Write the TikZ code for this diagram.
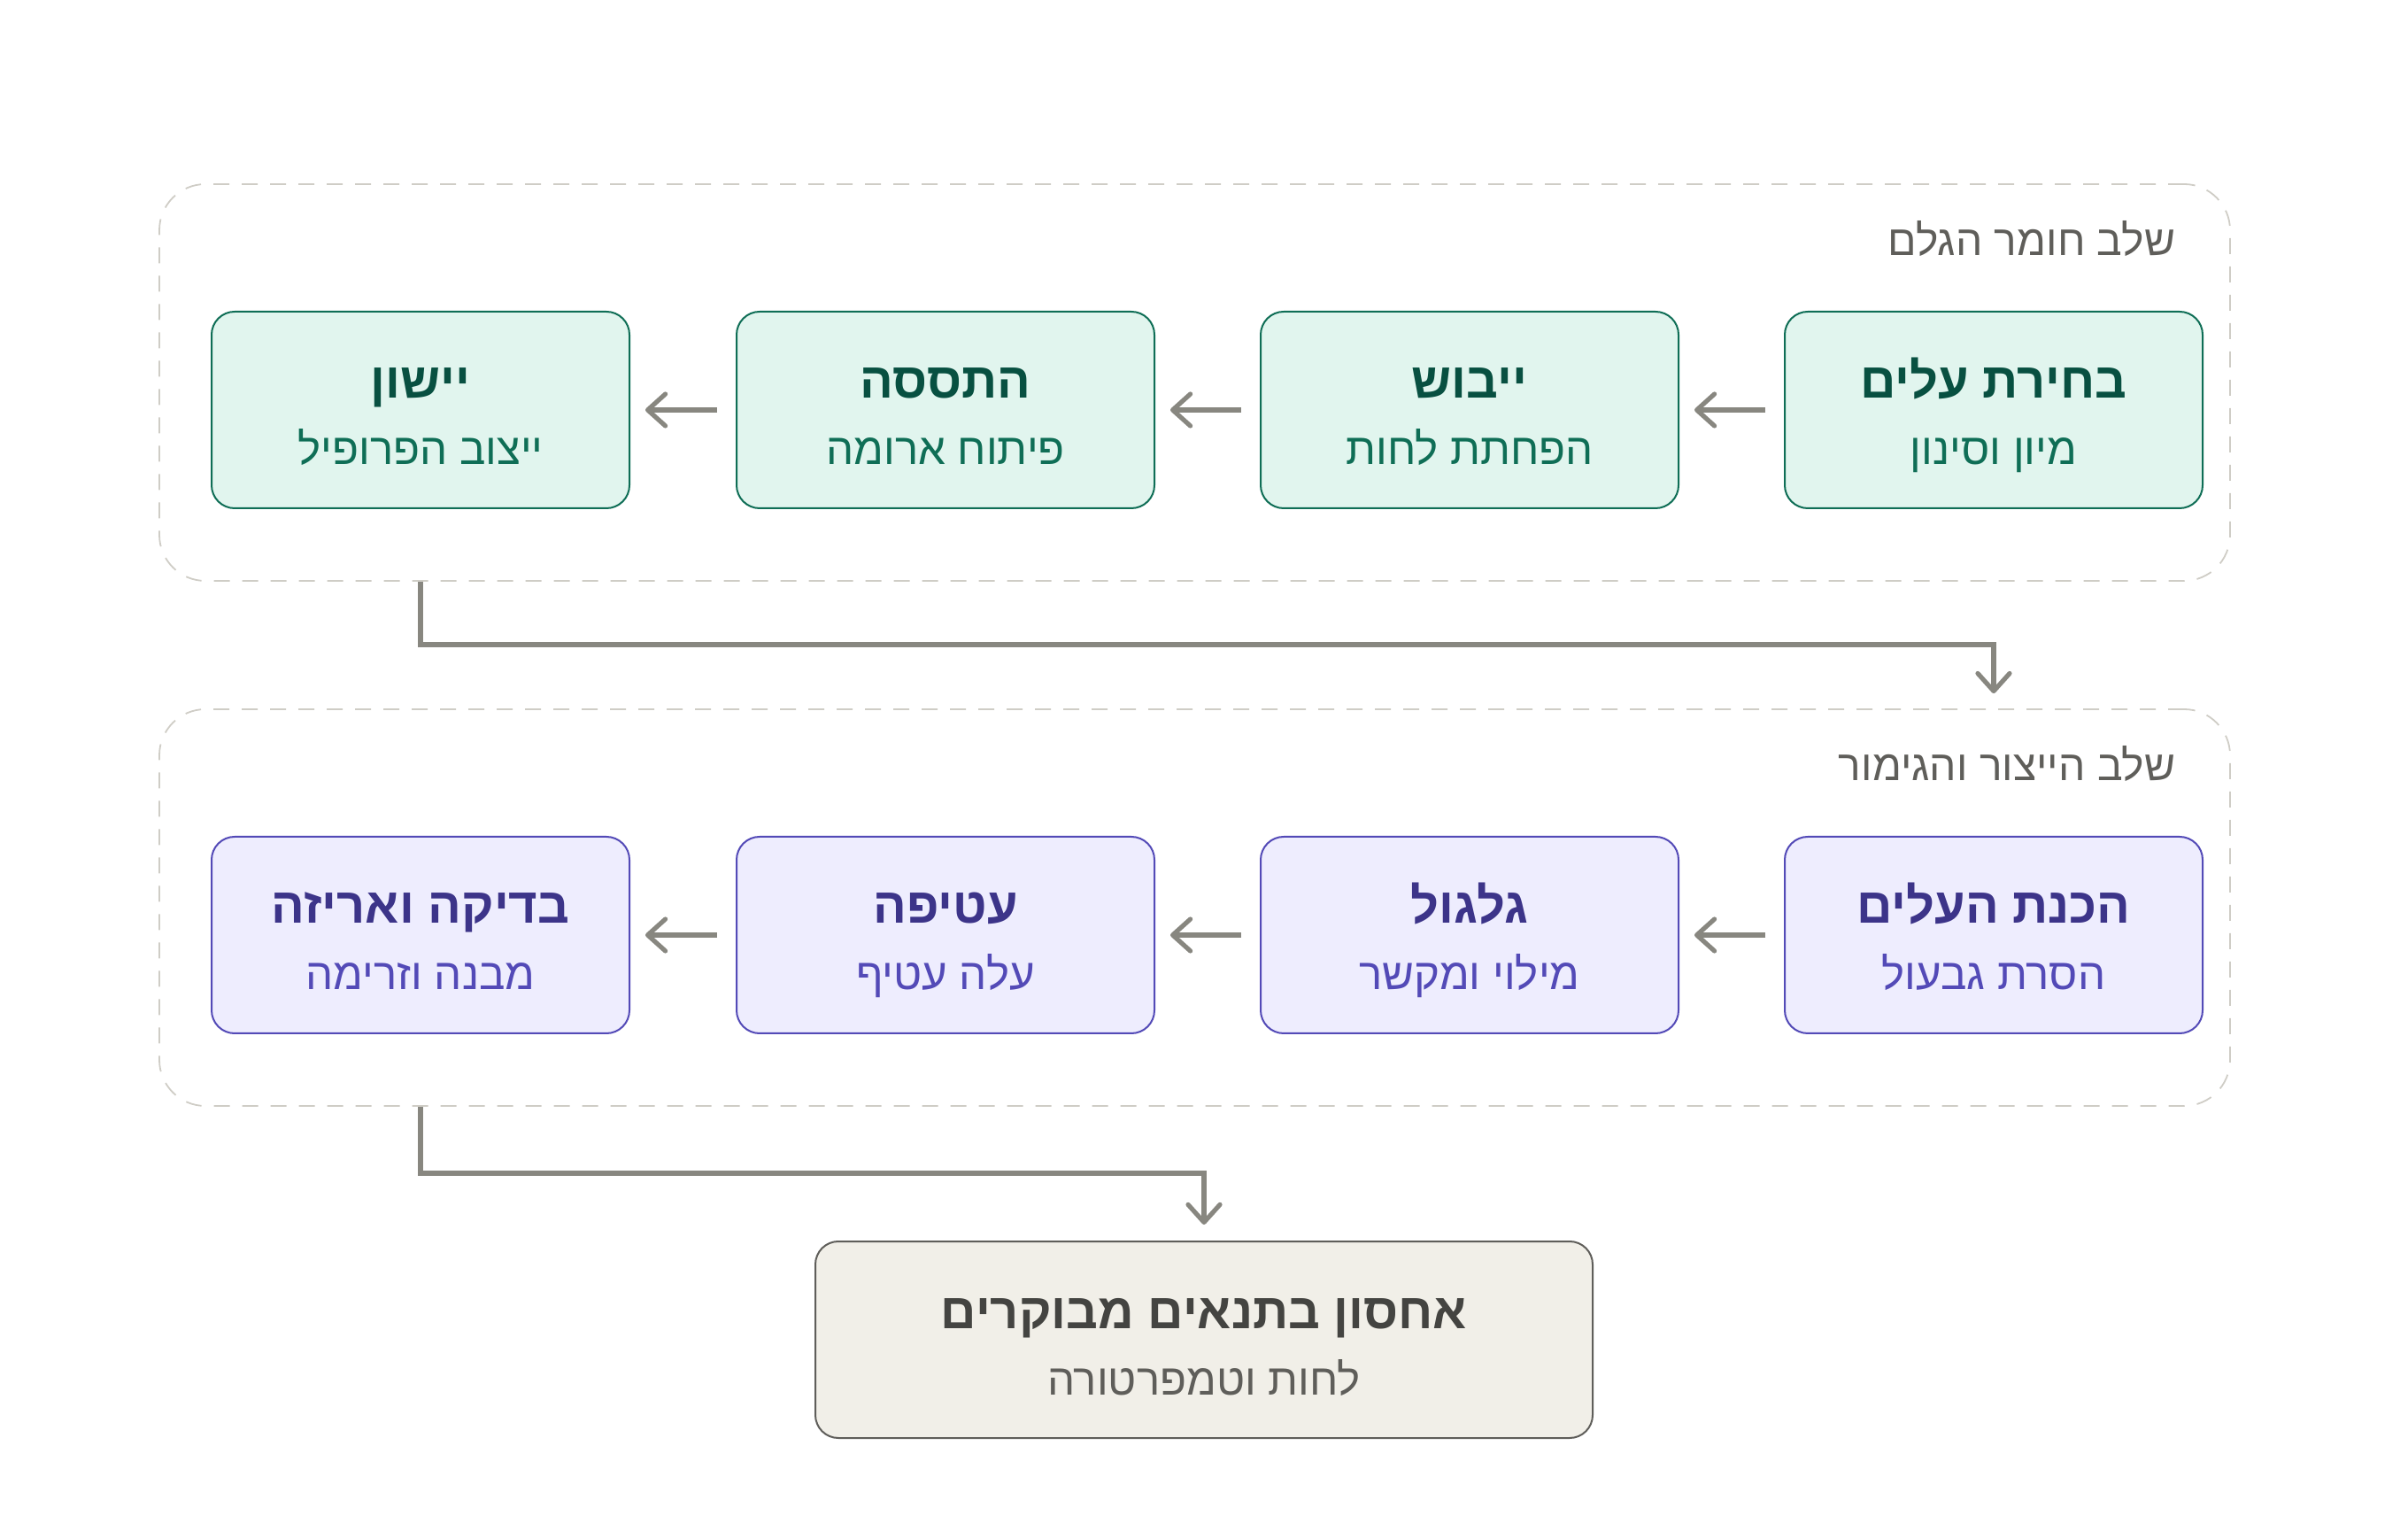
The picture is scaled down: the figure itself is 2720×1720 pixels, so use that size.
\documentclass[tikz,border=0pt]{standalone}
\usepackage{fontspec}
\setmainfont{Liberation Sans}
\newfontfamily\heb[Script=Hebrew]{Liberation Sans}
\TeXXeTstate=1
\usetikzlibrary{arrows.meta}
\definecolor{gfill}{HTML}{E1F5EE}
\definecolor{gline}{HTML}{0F6E56}
\definecolor{gtitle}{HTML}{085041}
\definecolor{gsub}{HTML}{0F6E56}
\definecolor{pfill}{HTML}{EEEDFE}
\definecolor{pline}{HTML}{534AB7}
\definecolor{ptitle}{HTML}{3C3489}
\definecolor{psub}{HTML}{534AB7}
\definecolor{nfill}{HTML}{F1EFE8}
\definecolor{nline}{HTML}{5F5E5A}
\definecolor{ntitle}{HTML}{444441}
\definecolor{nsub}{HTML}{5F5E5A}
\definecolor{clline}{HTML}{CFCDC6}
\definecolor{cltext}{HTML}{5F5E5A}
\definecolor{arr}{HTML}{888780}
\newcommand\stagetext[4]{{\color{#1}\fontsize{14}{18.75}\selectfont\bfseries\rule{0pt}{16.25pt}#3}\\{\color{#2}\fontsize{12.3}{18.75}\selectfont\rule[-4pt]{0pt}{4pt}#4}}
\begin{document}
\begin{tikzpicture}[x=0.25pt,y=-0.25pt,
  stage/.style={rectangle, rounded corners=6.5pt, line width=0.5pt, minimum width=118pt, minimum height=55.5pt, inner sep=0pt, align=center, font=\heb\fontsize{12.3}{18.75}\selectfont},
  gstage/.style={stage, draw=gline, fill=gfill},
  pstage/.style={stage, draw=pline, fill=pfill},
  nstage/.style={stage, draw=nline, fill=nfill, minimum width=219.5pt},
  cluster/.style={rectangle, rounded corners=13pt, draw=clline, line width=0.45pt, dash pattern=on 4.5pt off 3.5pt, minimum width=584.75pt, minimum height=112pt, inner sep=0pt},
  cltitle/.style={anchor=base east, inner sep=0pt, text=cltext, font=\heb\fontsize{12}{14}\selectfont},
  flow/.style={draw=arr, line width=1.3pt, -{Straight Barb[length=5pt,width=9pt,round]}, shorten <=5.25pt, shorten >=4.25pt},
  conn/.style={draw=arr, line width=1.3pt, -{Straight Barb[length=5pt,width=9pt,round]}}
]
\useasboundingbox (0,0) rectangle (2720,1720);
% clusters
\node[cluster] (c1) at (1349.5,432) {};
\node[cluster] (c2) at (1349.5,1025) {};
\node[cltitle] (t1) at (2458,289) {\beginR שלב חומר הגלם\endR};
\node[cltitle] (t2) at (2458,882) {\beginR שלב הייצור והגימור\endR};
% row 1
\node[gstage] (s1) at (2252,463) {\stagetext{gtitle}{gsub}{\beginR בחירת עלים\endR}{\beginR מיון וסינון\endR}};
\node[gstage] (s2) at (1660,463) {\stagetext{gtitle}{gsub}{\beginR ייבוש\endR}{\beginR הפחתת לחות\endR}};
\node[gstage] (s3) at (1068,463) {\stagetext{gtitle}{gsub}{\beginR התססה\endR}{\beginR פיתוח ארומה\endR}};
\node[gstage] (s4) at (475,463) {\stagetext{gtitle}{gsub}{\beginR יישון\endR}{\beginR ייצוב הפרופיל\endR}};
% row 2
\node[pstage] (u1) at (2252,1056) {\stagetext{ptitle}{psub}{\beginR הכנת העלים\endR}{\beginR הסרת גבעול\endR}};
\node[pstage] (u2) at (1660,1056) {\stagetext{ptitle}{psub}{\beginR גלגול\endR}{\beginR מילוי ומקשר\endR}};
\node[pstage] (u3) at (1068,1056) {\stagetext{ptitle}{psub}{\beginR עטיפה\endR}{\beginR עלה עטיף\endR}};
\node[pstage] (u4) at (475,1056) {\stagetext{ptitle}{psub}{\beginR בדיקה ואריזה\endR}{\beginR מבנה וזרימה\endR}};
% final
\node[nstage] (f) at (1360,1513) {\stagetext{ntitle}{nsub}{\beginR אחסון בתנאים מבוקרים\endR}{\beginR לחות וטמפרטורה\endR}};
% flows
\draw[flow] (s1) -- (s2);
\draw[flow] (s2) -- (s3);
\draw[flow] (s3) -- (s4);
\draw[flow] (u1) -- (u2);
\draw[flow] (u2) -- (u3);
\draw[flow] (u3) -- (u4);
% connectors between clusters
\coordinate (m1) at (0,728);
\coordinate (m2) at (0,1325);
\draw[conn, shorten >=4.25pt] (s4 |- c1.south) -- (s4 |- m1) -| (u1 |- c2.north);
\draw[conn, shorten >=4.5pt] (u4 |- c2.south) -- (u4 |- m2) -| (f.north);
\end{tikzpicture}
\end{document}
